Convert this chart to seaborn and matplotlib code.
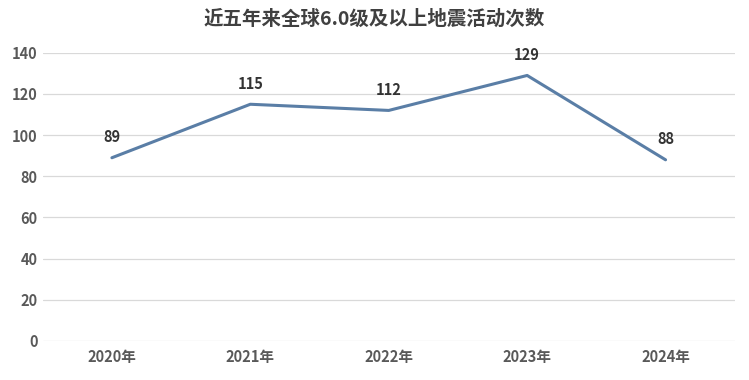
import pandas as pd
import matplotlib
matplotlib.use("Agg")
import matplotlib.pyplot as plt
import seaborn as sns

years = ["2020年", "2021年", "2022年", "2023年", "2024年"]
counts = [89, 115, 112, 129, 88]
title = "近五年来全球6.0级及以上地震活动次数"

sns.set_style("white")
plt.rcParams['font.family'] = ['Noto Sans CJK SC', 'DejaVu Sans']

df = pd.DataFrame({"year": years, "count": counts})

fig = plt.figure(figsize=(7.49, 3.80), dpi=100)
ax = fig.add_axes([0.057, 0.103, 0.924, 0.758])

sns.lineplot(data=df, x="year", y="count", sort=False, color="#5a7ea6",
             linewidth=2.2, ax=ax)

# value labels above each point
for i, v in enumerate(counts):
    ax.annotate(str(v), (i, v), xytext=(0, 9), textcoords="offset points",
                ha="center", va="bottom", fontsize=10.5, fontweight="bold",
                color="#333333")

ax.set_xlim(-0.5, len(years) - 0.5)
ax.set_ylim(0, 140)
ax.set_yticks(range(0, 141, 20))
ax.yaxis.grid(True, color="#d9d9d9", linewidth=0.9)
ax.set_axisbelow(True)
for s in ax.spines.values():
    s.set_visible(False)
ax.tick_params(axis="both", length=0, labelsize=10.5, labelcolor="#595959")
ax.tick_params(axis="x", pad=6)
for lab in ax.get_xticklabels() + ax.get_yticklabels():
    lab.set_fontweight("bold")
ax.set_xlabel("")
ax.set_ylabel("")

fig.text(0.5, 0.95, title, ha="center", va="center", fontsize=14,
         fontweight="bold", color="#404040")

fig.savefig("out.png", dpi=100)
